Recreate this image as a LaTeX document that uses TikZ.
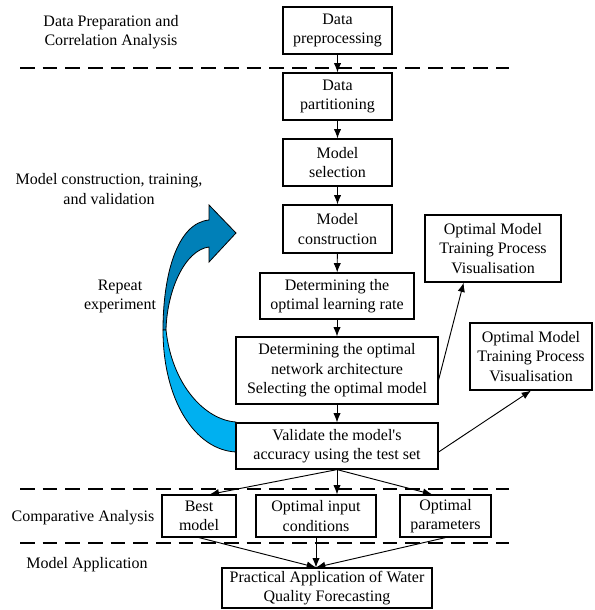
\documentclass[tikz,border=0pt]{standalone}
\usepackage{fontspec}
\setmainfont{Liberation Serif}
\usetikzlibrary{arrows.meta}

\definecolor{repdark}{RGB}{0,128,184}
\definecolor{replight}{RGB}{0,176,240}

\tikzset{
  box/.style={draw, line width=0.9pt, align=center, inner sep=0pt},
  lbl/.style={align=center, inner sep=0pt},
  sep/.style={line width=1pt, dash pattern=on 11pt off 6pt},
  flow/.style={-{Latex[length=7pt,width=5.5pt]}, line width=0.7pt},
}

\begin{document}
\begin{tikzpicture}[x=0.75pt,y=-0.75pt,font=\fontsize{12}{14.5}\selectfont]

\useasboundingbox (0,0) rectangle (594,610);

% stage separators
\draw[sep] (20,68) -- (509,68);
\draw[sep] (20,489) -- (509,489);
\draw[sep] (20,543) -- (509,543);

% stage labels
\node[lbl] (lblprep) at (111,32) {Data Preparation and\\Correlation Analysis};
\node[lbl] (lblmodel) at (109,189) {Model construction, training,\\and validation};
\node[lbl] (lblrep) at (120,296.5) {Repeat\\experiment};
\node[lbl] (lblcomp) at (83,518) {Comparative Analysis};
\node[lbl] (lblapp) at (87,565) {Model Application};

% repeat arrow
\filldraw[fill=repdark, draw=black, line width=0.6pt]
  (163,330) .. controls (163,275) and (177,223) .. (209,220) -- (209,205) -- (236,233)
  -- (209,262) -- (209,247) .. controls (185,250) and (167,290) .. (166,330) -- cycle;
\filldraw[fill=replight, draw=black, line width=0.6pt]
  (163,330) .. controls (163,400) and (195,450) .. (236,452) -- (236,422)
  .. controls (205,420) and (172,385) .. (166,330) -- cycle;

% main column
\node[box, minimum width=81.75pt, minimum height=35.25pt] (prep) at (337.5,30.5) {Data\\preprocessing};
\node[box, minimum width=81.75pt, minimum height=35.25pt] (part) at (337.5,96.5) {Data\\partitioning};
\node[box, minimum width=81.75pt, minimum height=35.25pt] (sel) at (337.5,162.5) {Model\\selection};
\node[box, minimum width=81.75pt, minimum height=36pt] (cons) at (337.5,229) {Model\\construction};
\node[box, minimum width=115.5pt, minimum height=34.5pt] (lr) at (337,296) {Determining the\\optimal learning rate};
\node[box, minimum width=151.5pt, minimum height=50.25pt] (net) at (337,370.5) {Determining the optimal\\network architecture\\Selecting the optimal model};
\node[box, minimum width=151.5pt, minimum height=34.5pt] (val) at (337,446) {Validate the model\textquotesingle s\\accuracy using the test set};

% visualisation
\node[box, minimum width=102pt, minimum height=50.25pt] (vis1) at (493,248.5) {Optimal Model\\Training Process\\Visualisation};
\node[box, minimum width=91.5pt, minimum height=50.25pt] (vis2) at (531,356.5) {Optimal Model\\Training Process\\Visualisation};

% comparison and application
\node[box, minimum width=55.5pt, minimum height=31.5pt] (best) at (199,516) {Best\\model};
\node[box, minimum width=90pt, minimum height=31.5pt] (inp) at (316,516) {Optimal input\\conditions};
\node[box, minimum width=68.25pt, minimum height=31.5pt] (par) at (445.5,516) {Optimal\\parameters};
\node[box, minimum width=157.5pt, minimum height=30pt] (app) at (327,588) {Practical Application of Water\\Quality Forecasting};

\coordinate (conv) at (inp.south |- app.north);

\draw[flow] (prep) -- (part);
\draw[flow] (part) -- (sel);
\draw[flow] (sel) -- (cons);
\draw[flow] (cons) -- (lr);
\draw[flow] (lr) -- (net);
\draw[flow] (net) -- (val);

\draw[flow] ([yshift=-7pt]net.east) -- ([xshift=-22pt]vis1.south);
\draw[flow] ([yshift=-4.5pt]val.east) -- (vis2.south);

\draw[flow] (val.south) -- ([xshift=8pt]best.north);
\draw[flow] (val.south) -- (val.south |- inp.north);
\draw[flow] (val.south) -- ([xshift=-10pt]par.north);

\draw[flow] (best.south) -- (conv);
\draw[flow] (inp.south) -- (conv);
\draw[flow] (par.south) -- (conv);

\end{tikzpicture}
\end{document}
